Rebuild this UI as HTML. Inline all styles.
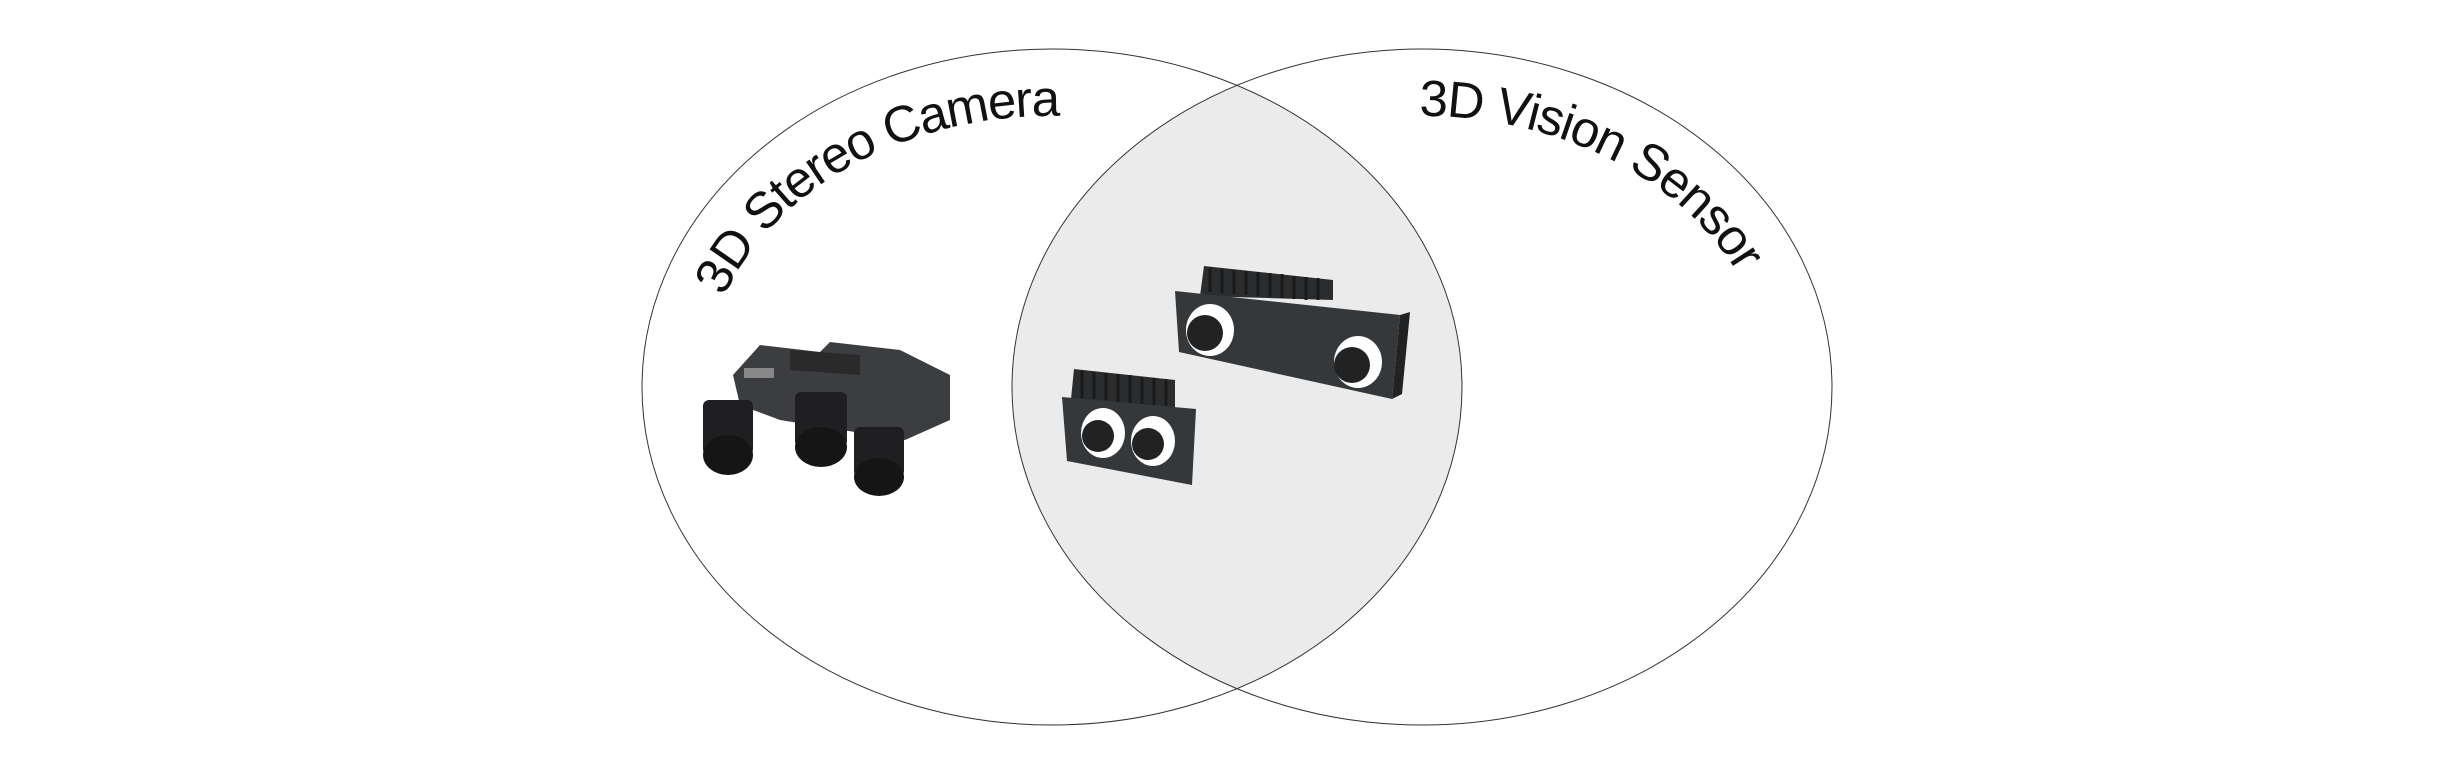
<!DOCTYPE html>
<html><head><style>
html,body{margin:0;padding:0;background:#fff;}
svg{display:block}
text{font-family:"Liberation Sans",sans-serif;font-size:51px;fill:#111;letter-spacing:-1.5px;}
</style></head><body>
<svg width="2464" height="768" viewBox="0 0 2464 768" xmlns="http://www.w3.org/2000/svg">
<defs>
<clipPath id="cl"><ellipse cx="1052" cy="387" rx="410" ry="338"/></clipPath>
<path id="pL" d="M704,388 A348,272 0 1,1 1400,388 A348,272 0 1,1 704,388"/>
<path id="pR" d="M1074,388 A348,272 0 1,1 1770,388 A348,272 0 1,1 1074,388"/>
</defs>
<ellipse cx="1422" cy="387" rx="410" ry="338" fill="#ebebeb" clip-path="url(#cl)"/>
<ellipse cx="1052" cy="387" rx="410" ry="338" fill="none" stroke="#333" stroke-width="1"/>
<ellipse cx="1422" cy="387" rx="410" ry="338" fill="none" stroke="#333" stroke-width="1"/>
<text><textPath href="#pL" startOffset="94">3D Stereo Camera</textPath></text>
<text><textPath href="#pR" startOffset="486">3D Vision Sensor</textPath></text>

<!-- big camera -->
<polygon points="1200,296 1204,266 1333,280 1333,300" fill="#2a2c2e"/>
<g stroke="#1a1a1a" stroke-width="3">
<line x1="1210" y1="268" x2="1210" y2="292"/><line x1="1222" y1="269" x2="1222" y2="293"/><line x1="1234" y1="270" x2="1234" y2="294"/><line x1="1246" y1="271" x2="1246" y2="295"/><line x1="1258" y1="272" x2="1258" y2="296"/><line x1="1270" y1="273" x2="1270" y2="297"/><line x1="1282" y1="274" x2="1282" y2="298"/><line x1="1294" y1="276" x2="1294" y2="299"/><line x1="1306" y1="277" x2="1306" y2="300"/><line x1="1318" y1="278" x2="1318" y2="300"/>
</g>
<polygon points="1175,291 1400,315 1392,399 1179,352" fill="#35383b"/>
<polygon points="1400,315 1410,312 1402,394 1392,399" fill="#222"/>
<ellipse cx="1210" cy="330" rx="24" ry="26" fill="#fff"/><circle cx="1205" cy="333" r="18" fill="#222"/>
<ellipse cx="1358" cy="362" rx="24" ry="26" fill="#fff"/><circle cx="1352" cy="365" r="18" fill="#222"/>

<!-- small camera -->
<polygon points="1071,399 1074,369 1175,380 1175,409" fill="#2a2c2e"/>
<g stroke="#1a1a1a" stroke-width="3">
<line x1="1082" y1="371" x2="1082" y2="398"/><line x1="1094" y1="372" x2="1094" y2="399"/><line x1="1106" y1="373" x2="1106" y2="400"/><line x1="1118" y1="374" x2="1118" y2="402"/><line x1="1130" y1="375" x2="1130" y2="403"/><line x1="1142" y1="377" x2="1142" y2="404"/><line x1="1154" y1="378" x2="1154" y2="405"/><line x1="1166" y1="379" x2="1166" y2="406"/>
</g>
<polygon points="1062,397 1196,409 1192,485 1067,461" fill="#35383b"/>
<ellipse cx="1103" cy="433" rx="22" ry="25" fill="#fff"/><circle cx="1098" cy="436" r="16" fill="#222"/>
<ellipse cx="1153" cy="441" rx="22" ry="25" fill="#fff"/><circle cx="1148" cy="444" r="16" fill="#222"/>

<!-- stereo rig -->
<polygon points="733,375 760,345 820,352 830,342 900,350 950,375 950,420 905,440 780,420 740,405" fill="#3b3d40"/>
<polygon points="790,350 860,355 860,375 790,370" fill="#2a2a2a"/>
<rect x="744" y="368" width="30" height="10" fill="#888"/>
<g fill="#1f1f21">
<rect x="703" y="400" width="50" height="55" rx="6"/><ellipse cx="728" cy="455" rx="25" ry="20" fill="#151515"/>
<rect x="795" y="392" width="52" height="55" rx="6"/><ellipse cx="821" cy="447" rx="26" ry="20" fill="#151515"/>
<rect x="854" y="427" width="50" height="50" rx="6"/><ellipse cx="879" cy="477" rx="25" ry="19" fill="#151515"/>
</g>
</svg>
</body></html>
